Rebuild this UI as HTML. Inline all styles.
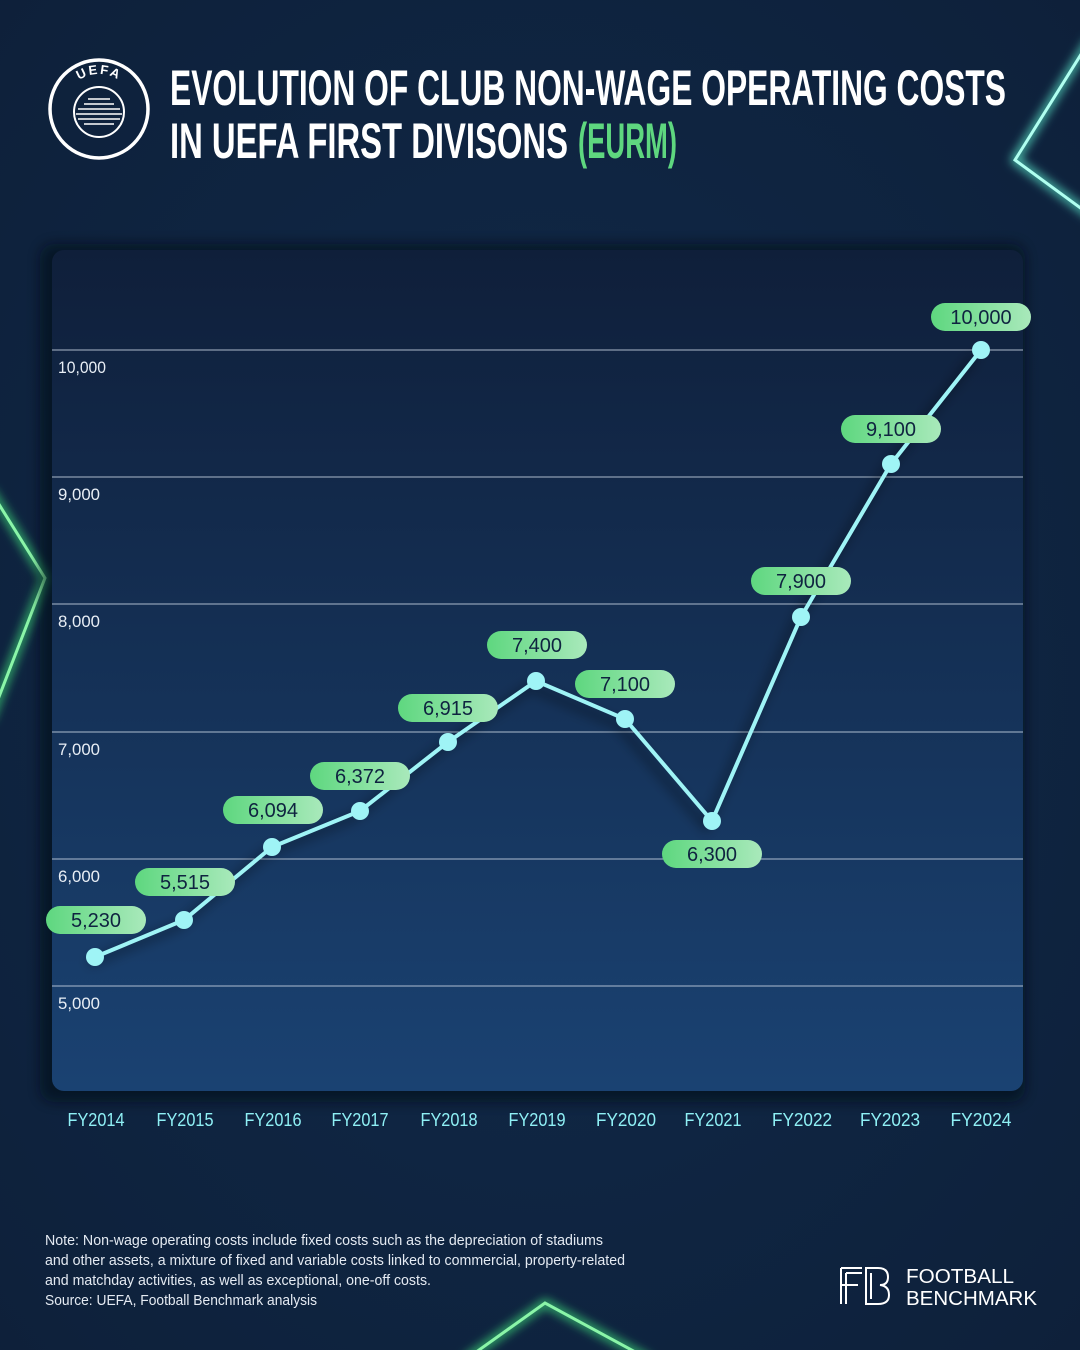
<!DOCTYPE html>
<html><head><meta charset="utf-8"><style>
html,body{margin:0;padding:0;background:#0f2340;}
svg{display:block;font-family:"Liberation Sans",sans-serif;}
</style></head><body>
<svg width="1080" height="1350" viewBox="0 0 1080 1350" xmlns="http://www.w3.org/2000/svg">
<defs>
<radialGradient id="bg" cx="0.5" cy="0.5" r="0.8">
<stop offset="0" stop-color="#112a4a"/><stop offset="1" stop-color="#0d1f38"/>
</radialGradient>
<linearGradient id="panel" x1="0" y1="0" x2="0" y2="1">
<stop offset="0" stop-color="#0f1f3a"/><stop offset="1" stop-color="#1a4272"/>
</linearGradient>
<linearGradient id="pill" x1="0" y1="0" x2="1" y2="0">
<stop offset="0" stop-color="#5ed77f"/><stop offset="1" stop-color="#a9e9bb"/>
</linearGradient>
<path id="arc" d="M64,109 A35,35 0 0 1 134,109"/>
<filter id="glow" x="-20%" y="-20%" width="140%" height="140%"><feGaussianBlur stdDeviation="5"/></filter>
<filter id="sh" x="-10%" y="-10%" width="130%" height="130%"><feGaussianBlur stdDeviation="6"/></filter>
</defs>
<rect width="1080" height="1350" fill="url(#bg)"/>
<g fill="none" stroke="#3ee07a" stroke-width="6">
<polyline points="-10,490 45,578 -10,720" filter="url(#glow)"/>
<polyline points="-10,490 45,578 -10,720" stroke="#8af5a8" stroke-width="3"/>
<polyline points="1090,40 1015,160 1090,215" stroke="#5ef0d0" filter="url(#glow)"/>
<polyline points="1090,40 1015,160 1090,215" stroke="#b0fff0" stroke-width="3"/>
<polyline points="465,1360 545,1303 650,1360" filter="url(#glow)"/>
<polyline points="465,1360 545,1303 650,1360" stroke="#8af5a8" stroke-width="3"/>
</g>
<circle cx="99" cy="109" r="49" fill="none" stroke="#fff" stroke-width="3.5"/>
<circle cx="99" cy="112" r="25" fill="none" stroke="#fff" stroke-width="2"/>
<g stroke="#fff" stroke-width="1.5">
<line x1="84" y1="104" x2="114" y2="104"/><line x1="78" y1="109" x2="120" y2="109"/>
<line x1="76" y1="114" x2="122" y2="114"/><line x1="78" y1="119" x2="120" y2="119"/>
<line x1="84" y1="124" x2="114" y2="124"/><line x1="88" y1="99" x2="110" y2="99"/>
</g>
<text fill="#fff" font-size="13" font-weight="bold" letter-spacing="2"><textPath href="#arc" startOffset="50%" text-anchor="middle">UEFA</textPath></text>
<text x="170" y="105" fill="#fff" font-size="50" font-weight="bold" textLength="836" lengthAdjust="spacingAndGlyphs">EVOLUTION OF CLUB NON-WAGE OPERATING COSTS</text>
<text x="170" y="158" fill="#fff" font-size="50" font-weight="bold" textLength="398" lengthAdjust="spacingAndGlyphs">IN UEFA FIRST DIVISONS</text>
<text x="578" y="158" fill="#5ed77f" font-size="50" font-weight="bold" textLength="99" lengthAdjust="spacingAndGlyphs">(EURM)</text>
<rect x="40" y="244" width="985" height="858" rx="14" fill="#050a14" opacity="0.6" filter="url(#sh)"/>
<rect x="52" y="250" width="971" height="841" rx="12" fill="url(#panel)"/>
<g stroke="#c8d4e2" stroke-width="1" opacity="0.85">
<line x1="52" y1="350" x2="1023" y2="350"/><line x1="52" y1="477" x2="1023" y2="477"/>
<line x1="52" y1="604" x2="1023" y2="604"/><line x1="52" y1="732" x2="1023" y2="732"/>
<line x1="52" y1="859" x2="1023" y2="859"/><line x1="52" y1="986" x2="1023" y2="986"/>
</g>
<g fill="#e8eef5" font-size="17">
<text x="58" y="373" textLength="48" lengthAdjust="spacingAndGlyphs">10,000</text><text x="58" y="500" textLength="42" lengthAdjust="spacingAndGlyphs">9,000</text><text x="58" y="627" textLength="42" lengthAdjust="spacingAndGlyphs">8,000</text>
<text x="58" y="755" textLength="42" lengthAdjust="spacingAndGlyphs">7,000</text><text x="58" y="882" textLength="42" lengthAdjust="spacingAndGlyphs">6,000</text><text x="58" y="1009" textLength="42" lengthAdjust="spacingAndGlyphs">5,000</text>
</g>
<polyline fill="none" stroke="#000" stroke-opacity="0.45" stroke-width="6" filter="url(#sh)" transform="translate(-6,6)" points="95,957 184,920 272,847 360,811 448,742 536,681 625,719 712,821 801,617 891,464 981,350"/>
<polyline fill="none" stroke="#9ff4f6" stroke-width="4" points="95,957 184,920 272,847 360,811 448,742 536,681 625,719 712,821 801,617 891,464 981,350"/>
<g fill="#9ff4f6">
<circle cx="95" cy="957" r="9"/><circle cx="184" cy="920" r="9"/><circle cx="272" cy="847" r="9"/>
<circle cx="360" cy="811" r="9"/><circle cx="448" cy="742" r="9"/><circle cx="536" cy="681" r="9"/>
<circle cx="625" cy="719" r="9"/><circle cx="712" cy="821" r="9"/><circle cx="801" cy="617" r="9"/>
<circle cx="891" cy="464" r="9"/><circle cx="981" cy="350" r="9"/>
</g>
<g font-size="20" fill="#0f2340" text-anchor="middle">
<g transform="translate(96,920)"><rect x="-50" y="-14" width="100" height="28" rx="14" fill="url(#pill)"/><text y="7">5,230</text></g>
<g transform="translate(185,882)"><rect x="-50" y="-14" width="100" height="28" rx="14" fill="url(#pill)"/><text y="7">5,515</text></g>
<g transform="translate(273,810)"><rect x="-50" y="-14" width="100" height="28" rx="14" fill="url(#pill)"/><text y="7">6,094</text></g>
<g transform="translate(360,776)"><rect x="-50" y="-14" width="100" height="28" rx="14" fill="url(#pill)"/><text y="7">6,372</text></g>
<g transform="translate(448,708)"><rect x="-50" y="-14" width="100" height="28" rx="14" fill="url(#pill)"/><text y="7">6,915</text></g>
<g transform="translate(537,645)"><rect x="-50" y="-14" width="100" height="28" rx="14" fill="url(#pill)"/><text y="7">7,400</text></g>
<g transform="translate(625,684)"><rect x="-50" y="-14" width="100" height="28" rx="14" fill="url(#pill)"/><text y="7">7,100</text></g>
<g transform="translate(712,854)"><rect x="-50" y="-14" width="100" height="28" rx="14" fill="url(#pill)"/><text y="7">6,300</text></g>
<g transform="translate(801,581)"><rect x="-50" y="-14" width="100" height="28" rx="14" fill="url(#pill)"/><text y="7">7,900</text></g>
<g transform="translate(891,429)"><rect x="-50" y="-14" width="100" height="28" rx="14" fill="url(#pill)"/><text y="7">9,100</text></g>
<g transform="translate(981,317)"><rect x="-50" y="-14" width="100" height="28" rx="14" fill="url(#pill)"/><text y="7">10,000</text></g>
</g>
<g fill="#8ff0f5" font-size="18" text-anchor="middle">
<text x="96" y="1126" textLength="57" lengthAdjust="spacingAndGlyphs">FY2014</text><text x="185" y="1126" textLength="57" lengthAdjust="spacingAndGlyphs">FY2015</text><text x="273" y="1126" textLength="57" lengthAdjust="spacingAndGlyphs">FY2016</text>
<text x="360" y="1126" textLength="57" lengthAdjust="spacingAndGlyphs">FY2017</text><text x="449" y="1126" textLength="57" lengthAdjust="spacingAndGlyphs">FY2018</text><text x="537" y="1126" textLength="57" lengthAdjust="spacingAndGlyphs">FY2019</text>
<text x="626" y="1126" textLength="60" lengthAdjust="spacingAndGlyphs">FY2020</text><text x="713" y="1126" textLength="57" lengthAdjust="spacingAndGlyphs">FY2021</text><text x="802" y="1126" textLength="60" lengthAdjust="spacingAndGlyphs">FY2022</text>
<text x="890" y="1126" textLength="60" lengthAdjust="spacingAndGlyphs">FY2023</text><text x="981" y="1126" textLength="61" lengthAdjust="spacingAndGlyphs">FY2024</text>
</g>
<g fill="#e4eaf2" font-size="14.5">
<text x="45" y="1245" textLength="558" lengthAdjust="spacingAndGlyphs">Note: Non-wage operating costs include fixed costs such as the depreciation of stadiums</text>
<text x="45" y="1265" textLength="580" lengthAdjust="spacingAndGlyphs">and other assets, a mixture of fixed and variable costs linked to commercial, property-related</text>
<text x="45" y="1285" textLength="386" lengthAdjust="spacingAndGlyphs">and matchday activities, as well as exceptional, one-off costs.</text>
<text x="45" y="1305" textLength="272" lengthAdjust="spacingAndGlyphs">Source: UEFA, Football Benchmark analysis</text>
</g>
<g fill="none" stroke="#fff" stroke-width="2">
<path d="M841,1268 H862 M841,1268 V1304 M846,1273 H862 M846,1273 V1304 M841,1285 H858"/>
<path d="M866,1268 H878 Q888,1268 888,1277 Q888,1285 880,1285 Q889,1286 889,1295 Q889,1304 878,1304 H866 Z"/>
<path d="M871,1273 V1299"/>
</g>
<g fill="#fff" font-size="20">
<text x="906" y="1283" textLength="108" lengthAdjust="spacingAndGlyphs">FOOTBALL</text>
<text x="906" y="1305" textLength="131" lengthAdjust="spacingAndGlyphs">BENCHMARK</text>
</g>
</svg>
</body></html>
